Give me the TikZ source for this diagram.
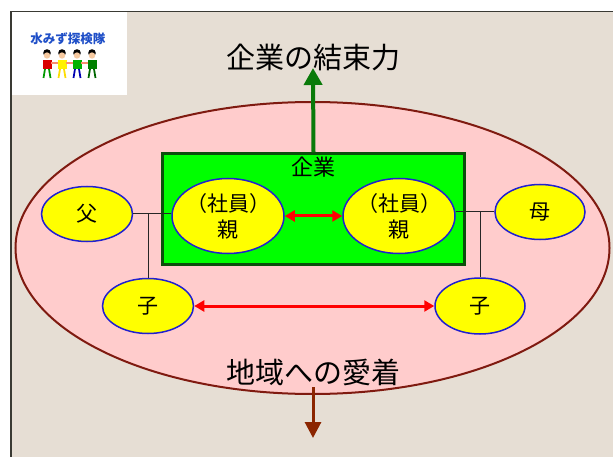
\documentclass[tikz,border=0pt]{standalone}
\usepackage{fontspec}
\setmainfont{Noto Sans CJK JP}
\usetikzlibrary{arrows.meta,shapes.geometric}

\definecolor{paper}{HTML}{E6DED4}
\definecolor{rose}{HTML}{FFCCCC}
\definecolor{rim}{HTML}{7F1A10}
\definecolor{firmfill}{HTML}{00FF00}
\definecolor{firmline}{HTML}{0B4F0B}
\definecolor{pillfill}{HTML}{FFFF00}
\definecolor{pillline}{HTML}{2020D0}
\definecolor{tie}{HTML}{FF0000}
\definecolor{upgreen}{HTML}{0A7A0A}
\definecolor{downbrown}{HTML}{8B2500}
\definecolor{frameline}{HTML}{3A3A34}
\definecolor{logoblue}{HTML}{1F4FC8}
\definecolor{skin}{HTML}{F6C9A0}

\tikzset{
  pill/.style={ellipse, draw=pillline, fill=pillfill, line width=1.5pt,
    inner sep=0pt, align=center, font=\fontsize{21}{26}\selectfont},
  tieline/.style={draw=tie, line width=3pt,
    {Triangle[length=10pt,width=11pt]}-{Triangle[length=10pt,width=11pt]}},
  kinline/.style={draw=black!85, line width=1pt},
  bigtext/.style={font=\fontsize{29}{29}\selectfont, inner sep=0pt},
}

\begin{document}
\begin{tikzpicture}[x=1pt,y=-1pt]
  % page and backdrop
  \useasboundingbox (0,0) rectangle (613,457);
  \fill[white] (0,0) rectangle (613,457);
  \fill[paper] (11,12) rectangle (613,457);
  \draw[frameline, line width=1.5pt] (10.75,457) -- (10.75,11.75) -- (613,11.75);

  % logo panel
  \fill[white] (11.5,12.5) rectangle (127,95);
  \node[text=logoblue, font=\fontsize{12.5}{12.5}\selectfont\bfseries, inner sep=0pt]
    (logo) at (68,39) {水みず探検隊};
  % four children holding hands
  \foreach \cx/\shirt/\legs in {47/red!85!black/green!60!black,
                                 62/yellow/yellow!80!orange,
                                 77/green!70!black/blue!70!black,
                                 92/green!50!black/green!40!black}{
    \fill[black] (\cx,53) circle (3.8pt);
    \fill[skin] (\cx,55.5) circle (3.2pt);
    \fill[\shirt] (\cx-4.5,60) rectangle (\cx+4.5,69);
    \draw[\legs, line width=1.8pt] (\cx-2,69) -- (\cx-3.5,78) (\cx+2,69) -- (\cx+3.5,78);
  }
  \draw[skin!70!red, line width=1.2pt] (51,63) -- (58,63) (66,63) -- (73,63) (81,63) -- (88,63);

  % community ring
  \node[ellipse, draw=rim, fill=rose, line width=2pt, minimum width=594pt,
        minimum height=292pt, inner sep=0pt] (ring) at (312.5,248) {};

  % company box
  \node[draw=firmline, fill=firmfill, line width=2.5pt, minimum width=302pt,
        minimum height=111pt, inner sep=0pt] (firm) at (313.5,209) {};
  \node[font=\fontsize{22}{22}\selectfont, inner sep=0pt] (firmlabel) at (313,167) {企業};

  % family members
  \node[pill, inner sep=-5pt, minimum width=112pt, minimum height=75pt] (oyaL) at (228,216) {（社員）\\親};
  \node[pill, inner sep=-5pt, minimum width=112pt, minimum height=75pt] (oyaR) at (399,216) {（社員）\\親};
  \node[pill, minimum width=91pt, minimum height=55pt] (father) at (87,214) {父};
  \node[pill, minimum width=90pt, minimum height=55pt] (mother) at (540,212) {母};
  \node[pill, minimum width=91pt, minimum height=55pt] (childL) at (148,306) {子};
  \node[pill, minimum width=90pt, minimum height=56pt] (childR) at (480,306) {子};

  % kinship lines
  \draw[kinline] (father.east) -- (father.east -| oyaL.west);
  \draw[kinline] (childL.north) -- (childL.north |- father.east);
  \draw[kinline] (mother.west -| oyaR.east) -- (mother.west);
  \draw[kinline] (childR.north) -- (childR.north |- mother.west);

  % ties between the two households
  \draw[tieline] (oyaL.east) -- (oyaR.west);
  \draw[tieline] (childL.east) -- (childR.west);

  % headings
  \node[bigtext] (title) at (313,57) {企業の結束力};
  \node[bigtext] (local) at (313,372) {地域への愛着};

  % pulls up and down
  \coordinate (uptip) at (313,68);
  \draw[upgreen, line width=4pt, -{Triangle[length=17pt,width=18pt]}]
    (firm.north) -- (uptip);
  \coordinate (downstart) at (313,387);
  \coordinate (downtip) at (313,438);
  \draw[downbrown, line width=3pt, -{Triangle[length=16pt,width=16pt]}]
    (downstart) -- (downtip);
\end{tikzpicture}
\end{document}
